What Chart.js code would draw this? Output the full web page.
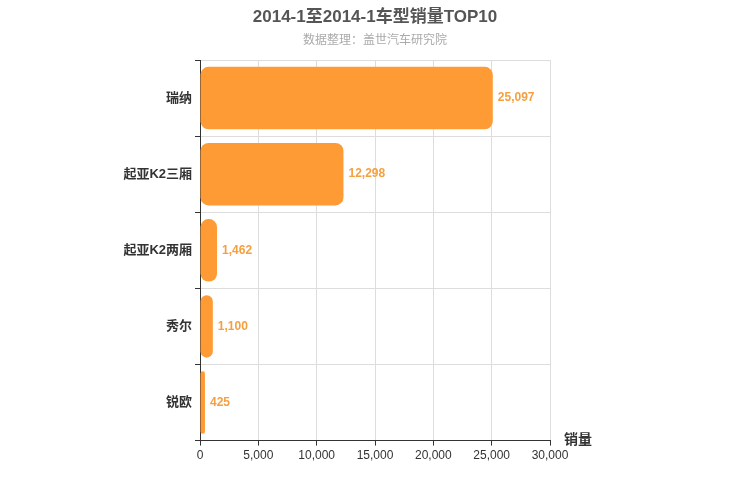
<!DOCTYPE html>
<html><head><meta charset="utf-8">
<script src="https://cdn.jsdelivr.net/npm/chart.js@4/dist/chart.umd.min.js"></script>
<style>body{margin:0;background:#fff}#w{width:750px;height:500px}</style>
</head><body><div id="w"><canvas id="c"></canvas></div>
<script>
const categories=["瑞纳","起亚K2三厢","起亚K2两厢","秀尔","锐欧"];
const sales=[25097,12298,1462,1100,425];
const xTicks=[0,5000,10000,15000,20000,25000,30000];
const F="'Liberation Sans', 'Noto Sans CJK SC', sans-serif";
const labelPlugin={id:'lbl',afterDatasetsDraw(ch){
 const ctx=ch.ctx;const m=ch.getDatasetMeta(0);
 ctx.save();ctx.font="bold 12px "+F;ctx.fillStyle="#f5a040";ctx.textBaseline="middle";
 m.data.forEach((b,i)=>ctx.fillText(sales[i].toLocaleString('en-US'),b.x+5,b.y));
 ctx.fillStyle="#333";ctx.font="bold 14px "+F;
 ctx.fillText("销量",ch.chartArea.right+14,ch.chartArea.bottom);
 ctx.textAlign="center";ctx.fillStyle="#555";ctx.font="bold 17px "+F;
 ctx.fillText("2014-1至2014-1车型销量TOP10",375,17);
 ctx.fillStyle="#aaa";ctx.font="12px "+F;
 ctx.fillText("数据整理：盖世汽车研究院",375,41);
 ctx.restore();}};
new Chart(document.getElementById('c'),{type:'bar',
 data:{labels:categories,datasets:[{data:sales,backgroundColor:'#ff9b35',borderRadius:8,borderSkipped:false,categoryPercentage:0.82,barPercentage:1}]},
 options:{indexAxis:'y',responsive:true,maintainAspectRatio:false,animation:false,
  layout:{padding:{left:0,right:200,top:60,bottom:34}},
  plugins:{legend:{display:false},tooltip:{enabled:false}},
  scales:{
   x:{min:0,max:30000,afterBuildTicks:a=>{a.ticks=xTicks.map(v=>({value:v}));},
    grid:{color:'#ddd',tickLength:5,tickColor:'#333'},border:{color:'#333'},
    ticks:{color:'#333',font:{size:12,family:F},callback:v=>v.toLocaleString('en-US')}},
   y:{grid:{offset:true,color:'#ddd',tickLength:5,tickColor:'#333'},border:{color:'#333'},
    afterFit:a=>{a.width=200;},
    ticks:{color:'#333',font:{size:13,weight:'bold',family:F}}}}},
 plugins:[labelPlugin]});
</script></body></html>
